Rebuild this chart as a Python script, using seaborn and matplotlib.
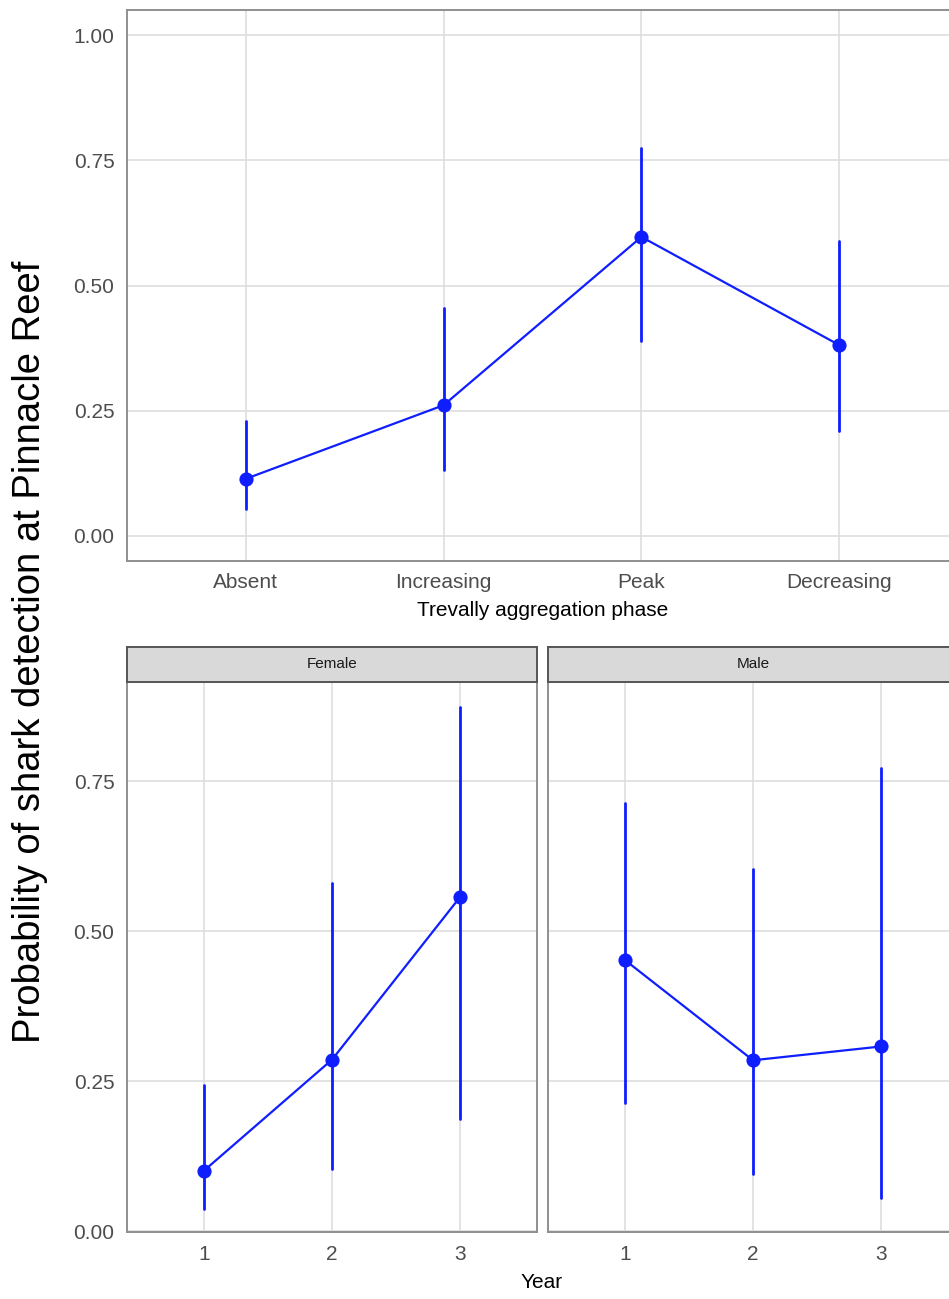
import numpy as np
import pandas as pd
import matplotlib
matplotlib.use("Agg")
import matplotlib.pyplot as plt
import seaborn as sns

# ---- data ----
phases = ["Absent", "Increasing", "Peak", "Decreasing"]
phase_mid = [0.114, 0.261, 0.597, 0.381]
phase_lo = [0.053, 0.132, 0.389, 0.210]
phase_hi = [0.230, 0.455, 0.774, 0.589]

years = ["1", "2", "3"]
female_mid = [0.101, 0.286, 0.557]
female_lo = [0.038, 0.104, 0.188]
female_hi = [0.244, 0.580, 0.873]
male_mid = [0.452, 0.285, 0.308]
male_lo = [0.214, 0.095, 0.055]
male_hi = [0.713, 0.604, 0.772]

sns.set_theme(style="white")
plt.rcParams["font.family"] = ["Liberation Sans", "DejaVu Sans"]

W, H = 949, 1299
fig = plt.figure(figsize=(W / 100, H / 100), dpi=100)

BLUE = "#0F1EFF"
GRID = "#DEDEDE"
BORDER = "#8F8F8F"
TICKC = "#4D4D4D"


def frac(x0, y0, x1, y1):
    return [x0 / W, 1 - y1 / H, (x1 - x0) / W, (y1 - y0) / H]


def long_df(cats, lo, mid, hi, col):
    rows = []
    for c, a, m, b in zip(cats, lo, mid, hi):
        for v in (a, m, b):
            rows.append({col: c, "p": v})
    return pd.DataFrame(rows)


def style_ax(ax):
    ax.set_facecolor("white")
    for s in ax.spines.values():
        s.set_color(BORDER)
        s.set_linewidth(1.4)
    ax.tick_params(axis="both", which="major", length=4, width=1.0, color=BORDER,
                   labelsize=15, labelcolor=TICKC, pad=5)


def draw(ax, df, col, order):
    sns.pointplot(data=df, x=col, y="p", order=order, estimator="median",
                  errorbar=("pi", 100), color=BLUE, markersize=9,
                  linewidth=1.6, err_kws={"linewidth": 2.0}, ax=ax)
    ax.xaxis.grid(True, color=GRID, linewidth=1.2)
    ax.yaxis.grid(True, color=GRID, linewidth=1.2)
    ax.set_axisbelow(True)


# ---- top panel ----
ax1 = fig.add_axes(frac(127, 10, 958, 561))
style_ax(ax1)
draw(ax1, long_df(phases, phase_lo, phase_mid, phase_hi, "phase"), "phase", phases)
ax1.set_xlim(-0.6, 3.6)
ax1.set_ylim(-0.05, 1.05)
ax1.set_yticks([0, 0.25, 0.5, 0.75, 1.0])
ax1.set_yticklabels(["0.00", "0.25", "0.50", "0.75", "1.00"])
ax1.set_ylabel("")
ax1.set_xlabel("Trevally aggregation phase", fontsize=15, color="black", labelpad=6)

# ---- bottom facets ----
panels = [
    ("Female", 127, 537, female_lo, female_mid, female_hi),
    ("Male", 548, 958, male_lo, male_mid, male_hi),
]
for name, x0, x1, lo, mid, hi in panels:
    ax = fig.add_axes(frac(x0, 682, x1, 1232))
    style_ax(ax)
    draw(ax, long_df(years, lo, mid, hi, "year"), "year", years)
    ax.set_xlim(-0.6, 2.6)
    ax.set_ylim(-0.001, 0.915)
    ax.set_yticks([0, 0.25, 0.5, 0.75])
    ax.set_xlabel("")
    ax.set_ylabel("")
    if name == "Female":
        ax.set_yticklabels(["0.00", "0.25", "0.50", "0.75"])
    else:
        ax.set_yticklabels([])
        ax.tick_params(axis="y", length=0)
    # strip
    sa = fig.add_axes(frac(x0, 647, x1, 682))
    sa.set_facecolor("#D9D9D9")
    sa.set_xticks([])
    sa.set_yticks([])
    for s in sa.spines.values():
        s.set_color("#555555")
        s.set_linewidth(1.4)
    sa.text(0.5, 0.5, name, transform=sa.transAxes, ha="center", va="center",
            fontsize=11, color="#1A1A1A")

fig.text(542 / W, 1 - 1282 / H, "Year", ha="center", va="center", fontsize=15,
         color="black")
fig.text(30 / W, 1 - 652 / H, "Probability of shark detection at Pinnacle Reef",
         rotation=90, ha="center", va="center", fontsize=27.5, color="black")

fig.savefig("out.png", dpi=100, facecolor="white")
